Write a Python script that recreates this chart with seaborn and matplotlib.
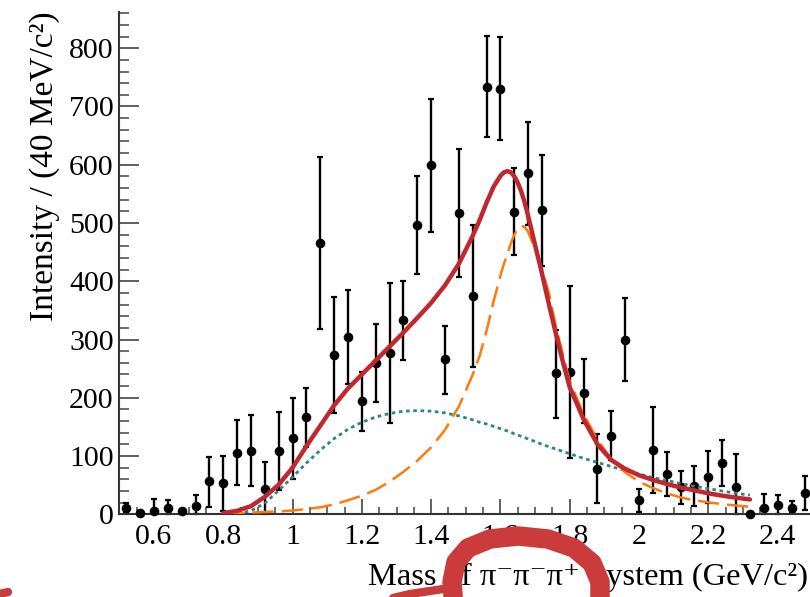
import matplotlib
matplotlib.use("Agg")
import matplotlib.pyplot as plt
import seaborn as sns
import pandas as pd
from matplotlib.ticker import MultipleLocator, FuncFormatter
from matplotlib.lines import Line2D

# ---------------- data ----------------
mass = [0.52, 0.56, 0.60, 0.64, 0.68, 0.72, 0.76, 0.80, 0.84, 0.88,
        0.92, 0.96, 1.00, 1.04, 1.08, 1.12, 1.16, 1.20, 1.24, 1.28,
        1.32, 1.36, 1.40, 1.44, 1.48, 1.52, 1.56, 1.60, 1.64, 1.68,
        1.72, 1.76, 1.80, 1.84, 1.88, 1.92, 1.96, 2.00, 2.04, 2.08,
        2.12, 2.16, 2.20, 2.24, 2.28, 2.32, 2.36, 2.40, 2.44, 2.48]
intensity = [10, 3, 5, 10, 5, 15, 57, 53, 106, 109,
             44, 108, 131, 167, 465, 273, 304, 194, 260, 277,
             333, 496, 599, 266, 517, 374, 734, 730, 519, 586,
             522, 242, 245, 209, 78, 135, 300, 24, 110, 69,
             46, 49, 64, 88, 46, 1, 11, 16, 10, 36]
err_lo = [8, 3, 5, 10, 5, 15, 44, 48, 55, 61,
          44, 66, 70, 52, 147, 99, 81, 51, 68, 120,
          69, 83, 114, 59, 110, 122, 87, 88, 74, 89,
          95, 76, 148, 53, 59, 42, 72, 20, 73, 38,
          28, 35, 45, 40, 46, 1, 11, 16, 8, 29]
err_hi = [9, 3, 21, 15, 4, 18, 42, 47, 55, 62,
          46, 67, 69, 50, 148, 100, 81, 50, 67, 120,
          68, 84, 114, 58, 110, 123, 87, 89, 75, 88,
          94, 74, 147, 58, 59, 42, 72, 19, 74, 38,
          28, 34, 44, 39, 58, 0, 23, 17, 12, 29]

curve_mass = [0.80, 0.84, 0.88, 0.92, 0.96, 1.00, 1.04, 1.08, 1.12, 1.16,
              1.20, 1.24, 1.28, 1.32, 1.36, 1.40, 1.44, 1.48, 1.52, 1.54,
              1.56, 1.58, 1.60, 1.61, 1.62, 1.63, 1.64, 1.65, 1.66, 1.67,
              1.68, 1.70, 1.72, 1.74, 1.76, 1.78, 1.80, 1.84, 1.88, 1.92,
              1.96, 2.00, 2.04, 2.08, 2.12, 2.16, 2.20, 2.24, 2.28, 2.32]
total_fit = [2, 6, 14, 30, 51, 80, 117, 152, 187, 216,
             240, 264, 288, 312, 337, 363, 393, 430, 478, 505,
             535, 562, 581, 587, 589, 587, 580, 569, 554, 535,
             512, 462, 413, 360, 310, 262, 218, 163, 120, 93,
             78, 67, 59, 52, 46, 41, 36, 32, 28.5, 25.5]
background = [0, 1, 6, 19, 41, 64, 88, 110, 130, 146,
              158, 167, 173, 177, 178, 177, 174, 169, 162, 158,
              155, 151, 147, 145, 143, 141, 138, 136, 134, 132,
              129, 125, 120, 116, 112, 108, 104, 96, 89, 82,
              75, 69, 63, 58, 53, 48, 44, 40, 36, 33]
signal = [0.5, 1.5, 3, 4, 5, 6.5, 9, 12, 17, 24,
          32, 42, 56, 73, 92, 115, 145, 185, 240, 272,
          315, 365, 410, 430, 447, 465, 480, 490, 495, 493,
          485, 455, 420, 380, 322, 275, 228, 172, 128, 95,
          72, 56, 45, 36, 29, 24, 20.5, 17.5, 15, 13]

x_ticks = [0.6, 0.8, 1.0, 1.2, 1.4, 1.6, 1.8, 2.0, 2.2, 2.4]
y_ticks = [0, 100, 200, 300, 400, 500, 600, 700, 800]

# ---------------- style ----------------
sns.set_theme(style="ticks")
serif = ["Liberation Serif", "DejaVu Serif"]
plt.rcParams["font.family"] = serif
plt.rcParams["axes.edgecolor"] = "#333333"

W, H = 810, 597
fig = plt.figure(figsize=(W / 100, H / 100), dpi=100)
fig.patch.set_facecolor("white")

x0_px, x_per_unit = 119.3, 346.5
y0_px, y_top_px = 514.3, 11.8
ax_left = x0_px / W
ax_bottom = (H - y0_px) / H
ax_width = 2.0 * x_per_unit / W
ax_height = (y0_px - y_top_px) / H
ax = fig.add_axes([ax_left, ax_bottom, ax_width, ax_height])
ax.set_facecolor("white")

# data points with asymmetric errors
ax.errorbar(mass, intensity, yerr=[err_lo, err_hi], fmt="none",
            ecolor="black", elinewidth=1.7, capsize=2.4, capthick=1.6,
            zorder=2, clip_on=False)
pts = pd.DataFrame({"mass": mass, "intensity": intensity})
sns.scatterplot(data=pts, x="mass", y="intensity", ax=ax, color="black",
                s=48, linewidth=0, zorder=3, clip_on=False, legend=False)

curves = pd.DataFrame({"mass": curve_mass, "total": total_fit,
                       "bkg": background, "sig": signal})
sns.lineplot(data=curves, x="mass", y="bkg", ax=ax, color="#2E8585",
             linewidth=2.0, linestyle=(0, (1.3, 1.3)), zorder=4)
sns.lineplot(data=curves, x="mass", y="sig", ax=ax, color="#FF7A0A",
             linewidth=1.8, linestyle=(0, (8.5, 3.2)), zorder=4)
sns.lineplot(data=curves, x="mass", y="total", ax=ax, color="#C0272F",
             linewidth=3.2, zorder=5)

ax.set_xlim(0.5, 2.5)
ax.set_ylim(0, 862.5)

ax.xaxis.set_major_locator(plt.FixedLocator(x_ticks))
ax.xaxis.set_minor_locator(MultipleLocator(0.05))
ax.yaxis.set_major_locator(plt.FixedLocator(y_ticks))
ax.yaxis.set_minor_locator(MultipleLocator(20))
ax.xaxis.set_major_formatter(FuncFormatter(lambda v, p: f"{v:g}"))
ax.yaxis.set_major_formatter(FuncFormatter(lambda v, p: f"{v:g}"))

for s in ["top", "right"]:
    ax.spines[s].set_visible(False)
for s in ["left", "bottom"]:
    ax.spines[s].set_linewidth(1.5)
    ax.spines[s].set_color("#333333")

tick_fs = 21.5
ax.tick_params(axis="y", which="major", direction="in", length=14.4,
               width=1.2, color="#444444", labelsize=tick_fs, pad=4,
               labelcolor="black")
ax.tick_params(axis="y", which="minor", direction="in", length=7.5,
               width=1.1, color="#444444")
ax.tick_params(axis="x", which="major", direction="in", length=10.8,
               width=1.2, color="#444444", labelsize=tick_fs, pad=7,
               labelcolor="black")
ax.tick_params(axis="x", which="minor", direction="in", length=5.2,
               width=1.1, color="#444444")
for lab in ax.get_xticklabels() + ax.get_yticklabels():
    lab.set_family(serif)

ax.set_ylabel("Intensity / (40 MeV/c²)", fontsize=24, family=serif,
              loc="top", color="black")
ax.yaxis.set_label_coords(-0.086, 1.0)
ax.set_xlabel("Mass of π⁻π⁻π⁺ System (GeV/c²)", fontsize=23.4,
              family=serif, loc="right", color="black")
ax.xaxis.set_label_coords(0.9945, -0.096)

# red hand-drawn scribble over the axis title (annotation in reference)
def fig_line(pts_px, lw, **kw):
    xs = [p[0] / W for p in pts_px]
    ys = [1 - p[1] / H for p in pts_px]
    ln = Line2D(xs, ys, transform=fig.transFigure, color="#CC3B3B",
                linewidth=lw, solid_capstyle="round",
                solid_joinstyle="round", zorder=20, clip_on=False, **kw)
    fig.add_artist(ln)

fig_line([(454, 608), (452, 582), (456, 562), (468, 548), (490, 539),
          (518, 536), (548, 539), (574, 548), (592, 563), (600, 582),
          (600, 608)], 14)
fig_line([(372, 603), (410, 594), (450, 588)], 6)
fig_line([(-5, 595), (8, 592)], 6)

fig.savefig("out.png", dpi=100, facecolor="white")
